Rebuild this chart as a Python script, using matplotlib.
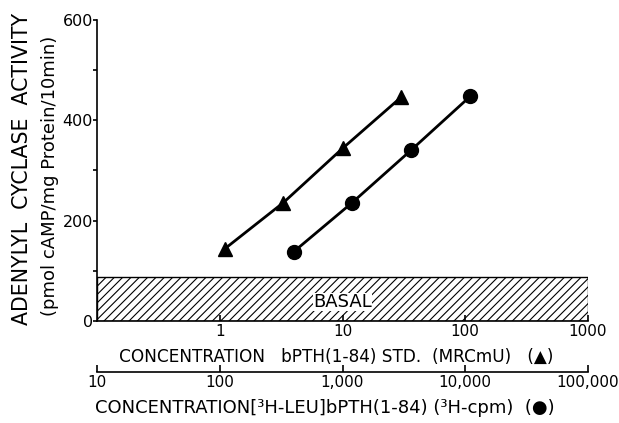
import numpy as np
from matplotlib import pyplot as plt
from matplotlib.patches import Rectangle

plt.rcParams["font.family"] = ["DejaVu Sans"]
plt.rcParams["hatch.linewidth"] = 0.8

# bPTH(1-84) standard, MRCmU (triangles)
std_conc = [1.1, 3.3, 10, 30]
std_activity = [144, 236, 344, 446]

# [3H-Leu]bPTH(1-84), 3H-cpm (circles)
leu_cpm = [400, 1200, 3600, 11000]
leu_activity = [138, 236, 340, 448]

basal_level = 88

main_ticks = [1, 10, 100, 1000]
main_ticklabels = ["1", "10", "100", "1000"]
cpm_ticks = [10, 100, 1000, 10000, 100000]
cpm_ticklabels = ["10", "100", "1,000", "10,000", "100,000"]
cpm_per_mrcmu = 100

fig = plt.figure(figsize=(6.19, 4.23), dpi=100)
ax = fig.add_axes([97 / 619, 102 / 423, 491 / 619, 301 / 423])

ax.set_xscale("log")
ax.set_xlim(0.1, 1000)
ax.set_ylim(0, 600)

ax.add_patch(Rectangle((0.1, 0), 1000 - 0.1, basal_level, facecolor="white",
                       edgecolor="black", hatch="////", linewidth=1.0, zorder=1))
ax.text(10, 38, "BASAL", ha="center", va="center", fontsize=13, zorder=3,
        bbox=dict(facecolor="white", edgecolor="none", pad=0.3))

ax.plot(std_conc, std_activity, color="black", lw=2, marker="^", ms=10, zorder=4)
ax.plot(np.array(leu_cpm) / cpm_per_mrcmu, leu_activity, color="black", lw=2,
        marker="o", ms=10, zorder=4)

for side in ["top", "right"]:
    ax.spines[side].set_visible(False)
ax.spines["left"].set_linewidth(1.2)
ax.spines["bottom"].set_linewidth(1.2)

ax.set_yticks([0, 200, 400, 600])
ax.set_yticklabels(["0", "200", "400", "600"])
ax.set_yticks([100, 300, 500], minor=True)
ax.tick_params(axis="y", which="major", direction="out", length=3, width=1.2,
               labelsize=11.5, pad=0)
ax.tick_params(axis="y", which="minor", direction="out", length=3, width=1.2)

ax.set_xticks(main_ticks)
ax.set_xticklabels(main_ticklabels)
ax.xaxis.set_minor_locator(plt.NullLocator())
ax.tick_params(axis="x", which="major", direction="in", length=4, width=1.2,
               labelsize=11, pad=2)
ax.set_xlabel("CONCENTRATION   bPTH(1-84) STD.  (MRCmU)   (\u25B2)",
              fontsize=12.2, labelpad=6)
ax.xaxis.set_label_coords((336 - 97) / 491, -0.09)

# second concentration scale in 3H-cpm
ax2 = fig.add_axes([97 / 619, 51 / 423, 491 / 619, 0.0001])
ax2.set_xscale("log")
ax2.set_xlim(10, 100000)
ax2.set_yticks([])
for side in ["top", "right", "left"]:
    ax2.spines[side].set_visible(False)
ax2.spines["bottom"].set_linewidth(1.2)
ax2.set_xticks(cpm_ticks)
ax2.set_xticklabels(cpm_ticklabels)
ax2.xaxis.set_minor_locator(plt.NullLocator())
ax2.tick_params(axis="x", which="major", direction="in", length=5, width=1.2,
                labelsize=11, pad=2)
fig.text(325 / 619, 15 / 423,
         "CONCENTRATION[\u00B3H-LEU]bPTH(1-84) (\u00B3H-cpm)  (\u25CF)",
         ha="center", va="center", fontsize=13)

fig.text(22 / 619, 0.60, "ADENYLYL  CYCLASE  ACTIVITY", rotation=90,
         ha="center", va="center", fontsize=14.8)
fig.text(50 / 619, 0.585, "(pmol cAMP/mg Protein/10min)", rotation=90,
         ha="center", va="center", fontsize=13)

fig.savefig("out.png", dpi=100)
